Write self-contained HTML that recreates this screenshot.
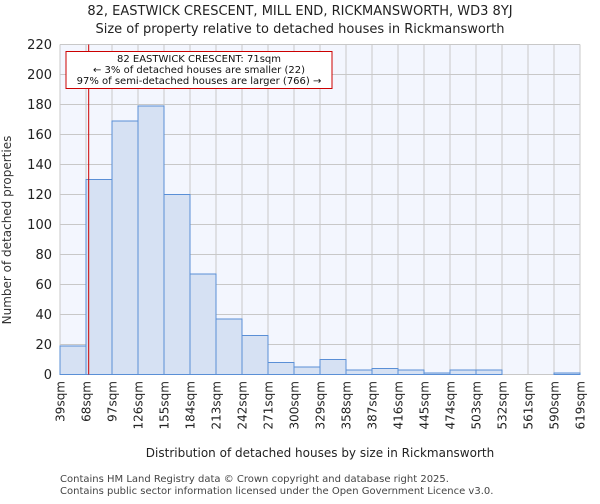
<!DOCTYPE html>
<html><head><meta charset="utf-8"><style>
body{margin:0;background:#fff;font-family:"DejaVu Sans","Liberation Sans",sans-serif;}
</style></head><body>
<svg width="600" height="500" xmlns="http://www.w3.org/2000/svg" font-family="DejaVu Sans, Liberation Sans, sans-serif">
<text x="300" y="15" text-anchor="middle" font-size="13" fill="#222">82, EASTWICK CRESCENT, MILL END, RICKMANSWORTH, WD3 8YJ</text>
<text x="300" y="33" text-anchor="middle" font-size="13" fill="#222">Size of property relative to detached houses in Rickmansworth</text>
<rect x="60" y="44.5" width="520" height="330" fill="#f3f6fe"/>
<g id="grid"></g>
<g id="bars"></g>
<g id="yticks"></g>
<g id="xticks"></g>
<line id="marker" y1="44.5" y2="374.5" stroke="#cc0000" stroke-width="1"/>
<g>
<rect x="66" y="51.5" width="266" height="37" fill="#fff" stroke="#cc0000" stroke-width="1"/>
<text x="199" y="62" text-anchor="middle" font-size="10" fill="#111">82 EASTWICK CRESCENT: 71sqm</text>
<text x="199" y="73" text-anchor="middle" font-size="10" fill="#111">← 3% of detached houses are smaller (22)</text>
<text x="199" y="84" text-anchor="middle" font-size="10" fill="#111">97% of semi-detached houses are larger (766) →</text>
</g>
<text transform="translate(11,230) rotate(-90)" text-anchor="middle" font-size="12" fill="#333">Number of detached properties</text>
<text x="320" y="457" text-anchor="middle" font-size="12" fill="#222">Distribution of detached houses by size in Rickmansworth</text>
<text x="60" y="482" font-size="10" fill="#444">Contains HM Land Registry data © Crown copyright and database right 2025.</text>
<text x="60" y="494" font-size="10" fill="#444">Contains public sector information licensed under the Open Government Licence v3.0.</text>
</svg>
<script>
const binEdges=[39,68,97,126,155,184,213,242,271,300,329,358,387,416,445,474,503,532,561,590,619];
const counts=[19,130,169,179,120,67,37,26,8,5,10,3,4,3,1,3,3,0,0,1];
const yTicks=[0,20,40,60,80,100,120,140,160,180,200,220];
const propertySize=71;
const NS="http://www.w3.org/2000/svg";
const X0=60,X1=580,Y0=374.5,Y1=44.5;
const xs=v=>X0+(v-binEdges[0])/(binEdges[binEdges.length-1]-binEdges[0])*(X1-X0);
const ys=v=>Y0-(v/220)*(Y0-Y1);
const mk=(t,a,p)=>{const e=document.createElementNS(NS,t);for(const k in a)e.setAttribute(k,a[k]);p.appendChild(e);return e;};
const grid=document.getElementById('grid'),bars=document.getElementById('bars'),yt=document.getElementById('yticks'),xt=document.getElementById('xticks');
yTicks.forEach(v=>{
 const l=mk('line',{x1:X0,x2:X1,y1:ys(v),y2:ys(v),stroke:'#c8c8c8','stroke-width':1},grid);
 
 
 const t=mk('text',{x:52,y:ys(v)+4.5,'text-anchor':'end','font-size':13,fill:'#222'},yt);
 t.textContent=v;
 
 
});
binEdges.forEach(v=>{
 const l=mk('line',{x1:xs(v),x2:xs(v),y1:Y1,y2:Y0,stroke:'#c8c8c8','stroke-width':1},grid);
 
 
 const x=xs(v);
 const t=mk('text',{transform:`translate(${x+4.5},381) rotate(-90)`,'text-anchor':'end','font-size':12,fill:'#222'},xt);
 t.textContent=v+'sqm';
 
 
});
counts.forEach((c,i)=>{
 const x=xs(binEdges[i]),w=xs(binEdges[i+1])-x;
 const r=mk('rect',{x:x,y:ys(c),width:w,height:Y0-ys(c),fill:'#d6e1f3',stroke:'#5a8fd6','stroke-width':1},bars);
 
 
});
const m=document.getElementById('marker');m.setAttribute('x1',xs(propertySize));m.setAttribute('x2',xs(propertySize));
</script>
</body></html>
